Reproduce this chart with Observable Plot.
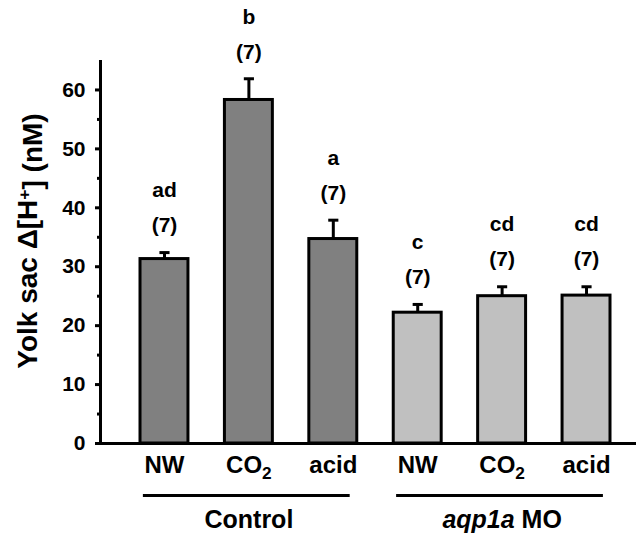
<!DOCTYPE html>
<html>
<head>
<meta charset="utf-8">
<script src="https://cdn.jsdelivr.net/npm/d3@7"></script>
<script src="https://cdn.jsdelivr.net/npm/@observablehq/plot@0.6"></script>
<style>
  html, body { margin: 0; padding: 0; background: #fff; }
  #chart { width: 636px; height: 538px; }
</style>
</head>
<body>
<div id="chart"></div>
<script>
// ---- data ----
const treatments = ["NW", "CO2", "acid", "NW", "CO2", "acid"];
const groups = ["Control", "Control", "Control", "aqp1a MO", "aqp1a MO", "aqp1a MO"];
const means = [31.3, 58.3, 34.7, 22.2, 25.0, 25.1];
const sems = [1.1, 3.6, 3.2, 1.4, 1.6, 1.5];
const letters = ["ad", "b", "a", "c", "cd", "cd"];
const counts = [7, 7, 7, 7, 7, 7];
const groupNames = ["Control", "aqp1a MO"];
const majorTicks = [0, 10, 20, 30, 40, 50, 60];
const minorTicks = [5, 15, 25, 35, 45, 55];
const yLabel = "Yolk sac Δ[H+] (nM)";

// ---- table ----
const rows = treatments.map((t, i) => ({
  i, treatment: t, group: groups[i], mean: means[i], sem: sems[i],
  top: means[i] + sems[i], letter: letters[i], n: `(${counts[i]})`,
  fill: groups[i] === groupNames[0] ? "#808080" : "#c0c0c0"
}));
const groupRows = groupNames.map(g => {
  const idx = rows.filter(r => r.group === g).map(r => r.i);
  return { name: g, start: d3.min(idx), end: d3.max(idx), mid: d3.mean(idx) };
});

const half = 0.284;   // bar half width (band units)
const cap = 0.06;     // error cap half width
const xDomain = [-0.758, 5.592];
const font = "'Liberation Sans', Arial, Helvetica, sans-serif";

const chart = Plot.plot({
  width: 636,
  height: 538,
  marginLeft: 100,
  marginRight: 0,
  marginTop: 60,
  marginBottom: 95,
  style: { fontFamily: font, color: "#000", background: "#fff" },
  x: { domain: xDomain, axis: null },
  y: { domain: [0, 65], label: null },
  marks: [
    // bars
    Plot.rectY(rows, {
      x1: d => d.i - half, x2: d => d.i + half, y1: 0, y2: "mean",
      fill: "fill", stroke: "#000", strokeWidth: 3
    }),
    // error bars
    Plot.ruleX(rows, { x: "i", y1: "mean", y2: "top", stroke: "#000", strokeWidth: 3 }),
    Plot.link(rows, {
      x1: d => d.i - cap, x2: d => d.i + cap, y1: "top", y2: "top",
      stroke: "#000", strokeWidth: 3
    }),
    // annotations
    Plot.text(rows, { x: "i", y: "top", text: "n", dy: -27, fontSize: 21, fontWeight: "bold", fill: "#000" }),
    Plot.text(rows, { x: "i", y: "top", text: "letter", dy: -62, fontSize: 21, fontWeight: "bold", fill: "#000" }),
    // axes lines
    Plot.ruleX([xDomain[0]], { y1: 0, y2: 65, stroke: "#000", strokeWidth: 3 }),
    Plot.ruleY([0], { x1: xDomain[0] - 0.04, x2: xDomain[1], stroke: "#000", strokeWidth: 3 }),
    // y ticks
    Plot.axisY({ ticks: majorTicks, tickSize: 5, tickPadding: 10, fontSize: 21, fontWeight: "bold", strokeWidth: 3, label: null }),
    Plot.axisY({ ticks: minorTicks, tickSize: 3, tickFormat: () => "", strokeWidth: 3, label: null }),
    // x labels
    Plot.text(rows, { x: "i", y: 0, text: "treatment", dy: 22, fontSize: 24, fontWeight: "bold", fill: "#000" }),
    // group lines and labels
    Plot.ruleY(groupRows, { y: 0, x1: d => d.start - 0.25, x2: d => d.end + 0.2, dy: 52, stroke: "#000", strokeWidth: 3 }),
    Plot.text(groupRows, { x: "mid", y: 0, text: "name", dy: 76, fontSize: 25, fontWeight: "bold", fill: "#000" }),
    // y title
    Plot.text([yLabel], { frameAnchor: "left", textAnchor: "middle", rotate: -90, dx: -72, dy: -11, fontSize: 28, fontWeight: "bold", fill: "#000" })
  ]
});

document.getElementById("chart").appendChild(chart);

// rich text: subscripts, superscripts, italics
const svg = d3.select(chart.tagName === "svg" ? chart : chart.querySelector("svg"));
svg.selectAll("text").each(function () {
  const el = d3.select(this);
  const t = this.textContent;
  if (t === "CO2") {
    el.text("CO");
    el.append("tspan").attr("dy", "0.35em").attr("font-size", "0.72em").text("2");
  } else if (t === yLabel) {
    el.text("Yolk sac Δ[H");
    el.append("tspan").attr("dy", "-0.45em").attr("font-size", "0.62em").text("+");
    el.append("tspan").attr("dy", "0.45em").text("] (nM)");
  } else if (t === "aqp1a MO") {
    el.text("");
    el.append("tspan").attr("font-style", "italic").text("aqp1a");
    el.append("tspan").text(" MO");
  }
});
</script>
</body>
</html>
